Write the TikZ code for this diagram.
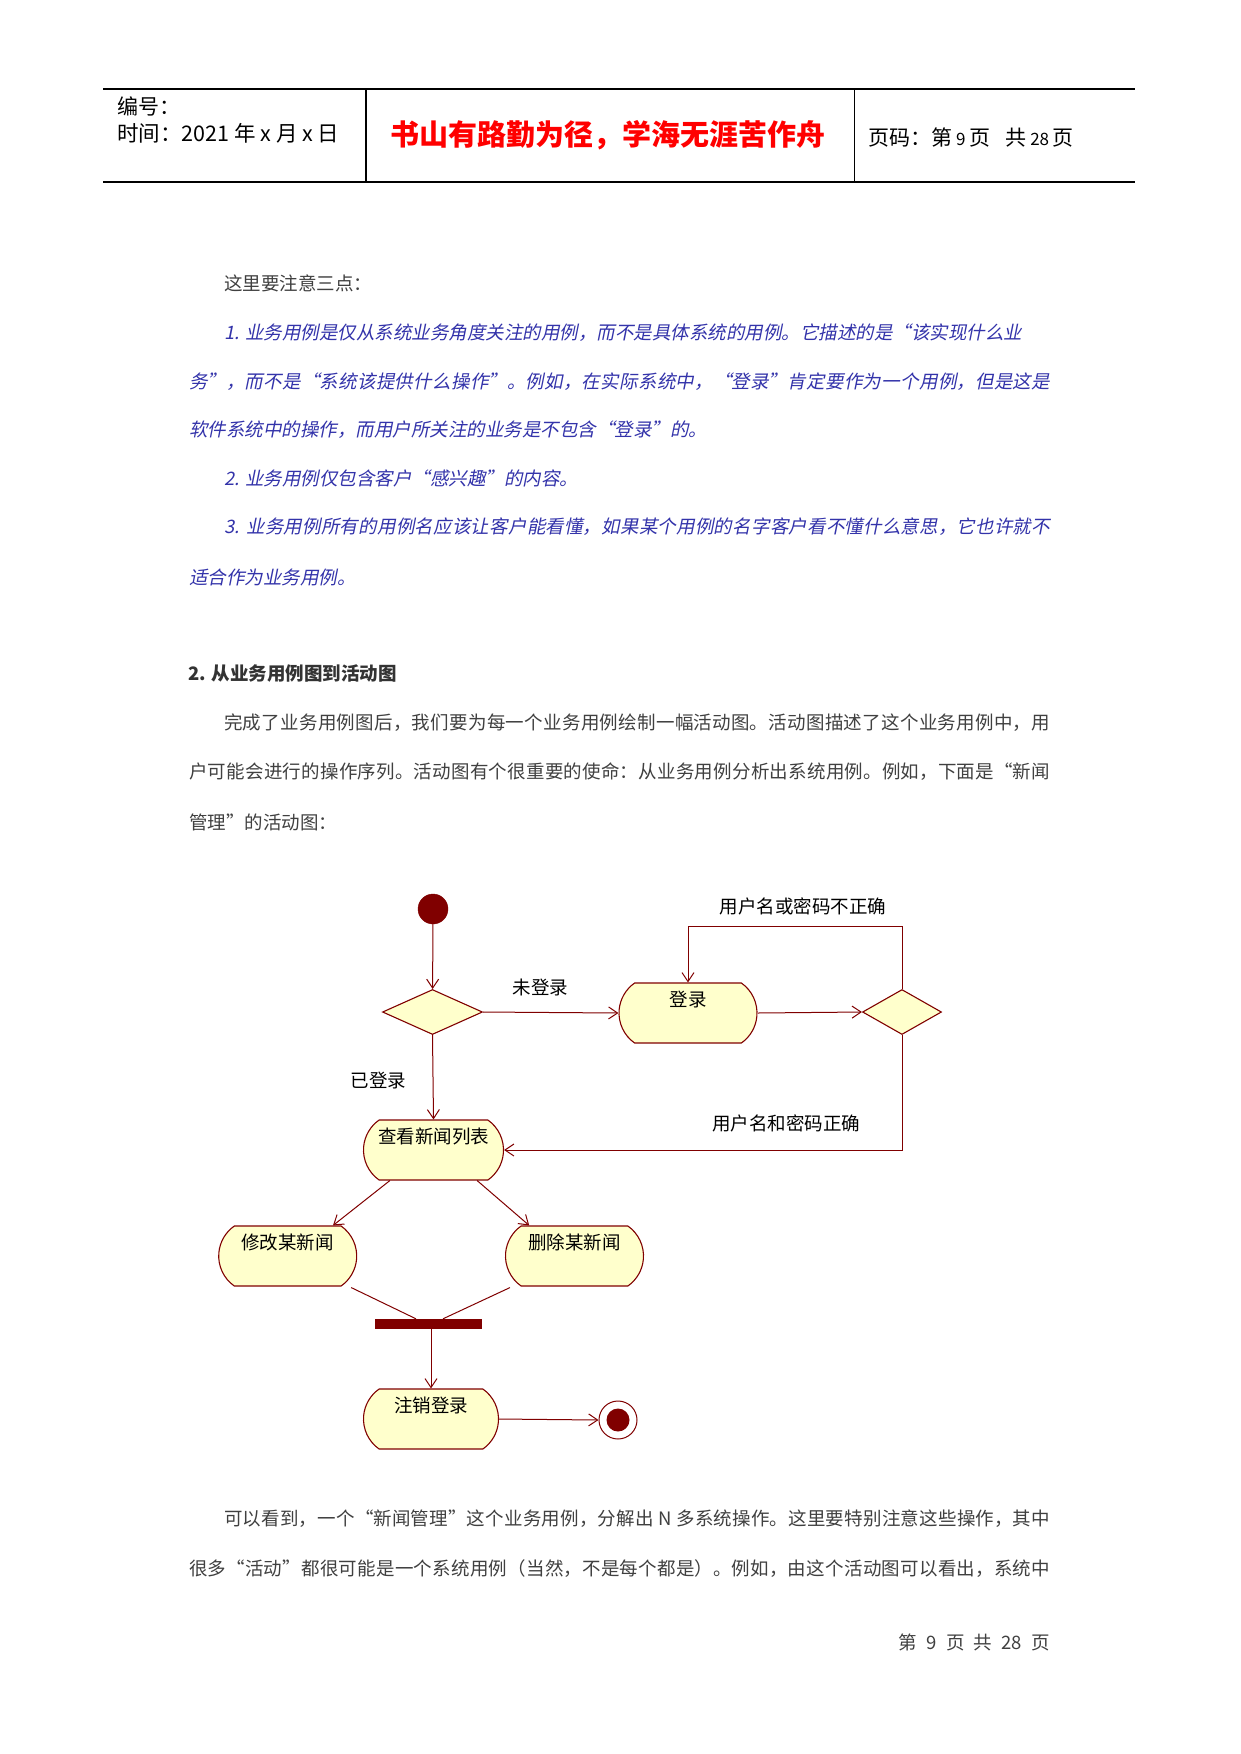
\documentclass[tikz,border=0pt]{standalone}
\usepackage{fontspec}
\setmainfont{Noto Sans CJK SC}
\newfontfamily\slantfont[FakeSlant=0.2]{Noto Sans CJK SC}
\usetikzlibrary{positioning,shapes.geometric,shapes.misc,arrows.meta,calc}
\XeTeXlinebreaklocale "zh"
\XeTeXlinebreakskip=0pt plus 1pt
\definecolor{umlred}{RGB}{128,0,0}
\definecolor{umlfill}{RGB}{255,255,204}
\definecolor{bodygray}{RGB}{64,64,64}
\definecolor{noteblue}{RGB}{51,51,170}
\newcommand\fillline[2]{\parbox{#1}{\parfillskip=0pt #2}}
\tikzset{
  txt/.style={anchor=west,inner sep=0pt,text=bodygray,font=\fontsize{18.5}{18.5}\selectfont},
  note/.style={anchor=west,inner sep=0pt,text=noteblue,font=\fontsize{18.5}{18.5}\slantfont},
  act/.style={rounded rectangle,rounded rectangle arc length=110,draw=umlred,fill=umlfill,line width=1.1pt,
    minimum width=138pt,text height=18pt,text depth=32pt,inner ysep=5pt,inner xsep=0pt,
    font=\fontsize{18.5}{18.5}\selectfont},
  choice/.style={diamond,draw=umlred,fill=umlfill,line width=1.1pt,inner sep=0pt},
  flow/.style={draw=umlred,line width=1pt,-{Straight Barb[length=9pt,width=12pt]}},
  lbl/.style={inner sep=0pt,font=\fontsize{18.5}{18.5}\selectfont},
}
\begin{document}
\begin{tikzpicture}[x=1pt,y=-1pt]
	\useasboundingbox (0,0) rectangle (1241,1754);
	\fill[white] (0,0) rectangle (1241,1754);
	% header table
	\draw[line width=1.6pt] (103,89) -- (1135,89);
	\draw[line width=1.6pt] (103,182) -- (1135,182);
	\draw[line width=1.6pt] (366,89) -- (366,182);
	\draw[line width=0.9pt] (854,89) -- (854,182);
	\node[anchor=west,inner sep=0pt,font=\fontsize{21}{21}\selectfont] (hdrno) at (117,106) {编号：};
	\node[anchor=west,inner sep=0pt,font=\fontsize{21.5}{21.5}\selectfont] (hdrdate) at (117,133) {时间：2021 年 x 月 x 日};
	\node[inner sep=0pt,text=red,font=\fontsize{29}{29}\selectfont\bfseries] (motto) at (608,135) {书山有路勤为径，学海无涯苦作舟};
	\node[anchor=west,inner sep=0pt,font=\fontsize{21}{21}\selectfont] (hdrpage) at (868,137)
		{页码：第{\fontsize{17}{17}\selectfont\ 9\ }页\enspace\ 共{\fontsize{17}{17}\selectfont\ 28\ }页};
	% notes
	\node[txt] (intro) at (224,283) {这里要注意三点：};
	\node[note] (noteA) at (224,333) {1. 业务用例是仅从系统业务角度关注的用例，而不是具体系统的用例。它描述的是“该实现什么业};
	\node[note] (noteB) at (189,382) {\fillline{861pt}{务”，而不是“系统该提供什么操作”。例如，在实际系统中，“登录”肯定要作为一个用例，但是这是}};
	\node[note] (noteC) at (189,430) {软件系统中的操作，而用户所关注的业务是不包含“登录”的。};
	\node[note] (noteD) at (224,478) {2. 业务用例仅包含客户“感兴趣”的内容。};
	\node[note] (noteE) at (224,527) {\fillline{826pt}{3. 业务用例所有的用例名应该让客户能看懂，如果某个用例的名字客户看不懂什么意思，它也许就不}};
	\node[note] (noteF) at (189,577) {适合作为业务用例。};
	% section
	\node[txt,font=\fontsize{18.5}{18.5}\selectfont\bfseries,text=black!80] (sect) at (188,673) {2. 从业务用例图到活动图};
	\node[txt] (paraA) at (224,723) {\fillline{826pt}{完成了业务用例图后，我们要为每一个业务用例绘制一幅活动图。活动图描述了这个业务用例中，用}};
	\node[txt] (paraB) at (189,772) {\fillline{861pt}{户可能会进行的操作序列。活动图有个很重要的使命：从业务用例分析出系统用例。例如，下面是“新闻}};
	\node[txt] (paraC) at (189,822) {管理”的活动图：};
	% diagram
	\node[circle,fill=umlred,draw=umlred,minimum size=30pt,inner sep=0pt] (init) at (433,909) {};
	\node[choice,minimum width=100pt,minimum height=45pt] (chk) at (432.5,1012) {};
	\node[act] (login) at (688,1013) {登录};
	\node[choice,minimum width=79pt,minimum height=45pt] (auth) at (902,1012) {};
	\node[act,minimum width=140pt] (list) at (433.5,1150) {查看新闻列表};
	\node[act] (edit) at (287.7,1256) {修改某新闻};
	\node[act] (del) at (574.5,1256) {删除某新闻};
	\node[fill=umlred,minimum width=107pt,minimum height=10pt,inner sep=0pt] (join) at (428,1324) {};
	\node[act,minimum width=135pt] (logout) at (431,1419) {注销登录};
	\node[circle,draw=umlred,line width=1pt,fill=white,minimum size=38pt,inner sep=0pt] (final) at (618,1420) {};
	\node[circle,fill=umlred,minimum size=23pt,inner sep=0pt] (finaldot) at (final) {};
	% guards
	\node[lbl] (lnot) at (540.5,987) {未登录};
	\node[lbl] (lbad) at (803,906) {用户名或密码不正确};
	\node[lbl] (lyes) at (378.5,1080) {已登录};
	\node[lbl] (lok) at (786,1123) {用户名和密码正确};
	% flows
	\draw[flow] (init) -- (chk);
	\draw[flow] (chk.east) -- (login.west);
	\draw[flow] (login.east) -- (auth.west);
	\draw[flow] (auth.north) -- ++(0,-62) -| (login.north);
	\draw[flow] (auth.south) |- (list.east);
	\draw[flow] (chk.south) -- (list.north);
	\draw[flow] (list.215) -- (edit.34);
	\draw[flow] (list.325) -- (del.146);
	\draw[umlred,line width=1pt] ($(edit.south)+(63.5,1)$) -- ($(join.north)+(-12,0)$);
	\draw[umlred,line width=1pt] ($(del.south)+(-64.5,1)$) -- ($(join.north)+(15,0)$);
	\draw[flow] (logout.north |- join.south) -- (logout.north);
	\draw[flow] (logout.east) -- (final.west);
	% text below
	\node[txt] (paraD) at (224,1519) {\fillline{826pt}{可以看到，一个“新闻管理”这个业务用例，分解出 N 多系统操作。这里要特别注意这些操作，其中}};
	\node[txt] (paraE) at (189,1569) {\fillline{861pt}{很多“活动”都很可能是一个系统用例（当然，不是每个都是）。例如，由这个活动图可以看出，系统中}};
	\node[txt,anchor=east] (footer) at (1050,1642) {第\enspace 9\enspace 页\enspace 共\enspace 28\enspace 页};
\end{tikzpicture}
\end{document}
